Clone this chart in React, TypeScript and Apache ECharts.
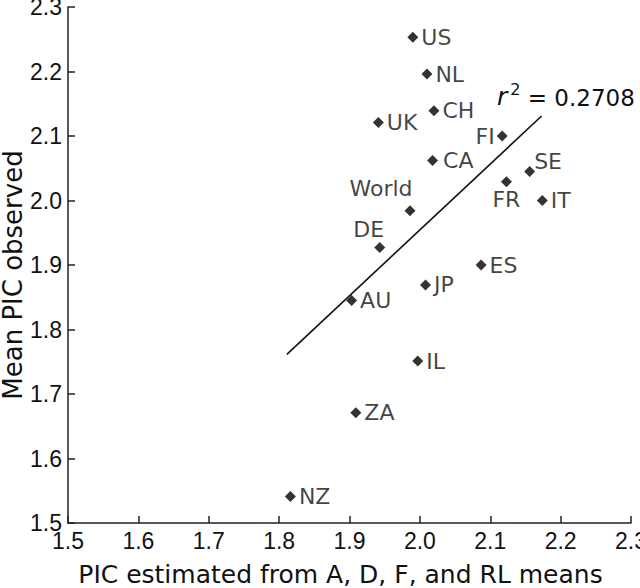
import React, { useEffect, useRef } from "react";
import * as echarts from "echarts";

const countries = ["US", "NL", "CH", "UK", "FI", "CA", "SE", "FR", "IT", "World", "DE", "ES", "JP", "AU", "IL", "ZA", "NZ"];
const estimated = [1.99, 2.01, 2.02, 1.941, 2.117, 2.018, 2.156, 2.123, 2.174, 1.986, 1.943, 2.087, 2.008, 1.903, 1.997, 1.909, 1.816];
const observed = [2.253, 2.196, 2.139, 2.121, 2.1, 2.062, 2.045, 2.029, 2.0, 1.984, 1.927, 1.9, 1.869, 1.845, 1.751, 1.671, 1.541];
const fitLineX = [1.811, 2.173];
const fitLineY = [1.7615, 2.131];
const r2Text = "0.2708";

// label placements per country
const labelPlacement: Record<string, { position: any; offset?: number[]; distance?: number }> = {
  FI: { position: "left", distance: 2 },
  SE: { position: "right", offset: [-3, -10], distance: 2 },
  FR: { position: "bottom", distance: 1 },
  World: { position: "top", offset: [-29, -4], distance: 2 },
  DE: { position: "top", offset: [-11, 0], distance: 2 },
  CA: { position: "right", distance: 5 },
};

const NUMFONT = "'Liberation Sans', Arial, Helvetica, sans-serif";
const TXTFONT = "'DejaVu Sans', 'Liberation Sans', sans-serif";

export default function App() {
  const ref = useRef<HTMLDivElement>(null);
  useEffect(() => {
    if (!ref.current) return;
    const chart = echarts.init(ref.current, undefined, { renderer: "svg" });
    const data = countries.map((c, i) => {
      const p = labelPlacement[c] || { position: "right", distance: 3 };
      return {
        name: c,
        value: [estimated[i], observed[i]],
        label: {
          show: true,
          formatter: c,
          position: p.position,
          distance: p.distance ?? 3,
          offset: p.offset || [0, 0],
        },
      };
    });
    const axisCommon = {
      type: "value",
      min: 1.5,
      max: 2.3,
      interval: 0.1,
      nameLocation: "middle",
      nameMoveOverlap: false,
      axisLine: { show: true, lineStyle: { color: "#222", width: 1.5 } },
      axisTick: { show: true, inside: true, length: 7, lineStyle: { color: "#222", width: 1.5 } },
      axisLabel: { color: "#111", fontSize: 23, margin: 6, fontFamily: NUMFONT, formatter: (v: number) => v.toFixed(1) },
      splitLine: { show: false },
    };
    chart.setOption({
      animation: false,
      textStyle: { fontFamily: TXTFONT },
      grid: { left: 68, right: 9, top: 7, bottom: 65, containLabel: false, outerBoundsMode: "none" },
      xAxis: {
        ...axisCommon,
        name: "PIC estimated from A, D, F, and RL means",
        nameGap: 39,
        nameTextStyle: { color: "#111", fontSize: 25, fontFamily: TXTFONT, padding: [0, 18, 0, 0] },
      },
      yAxis: {
        ...axisCommon,
        name: "Mean PIC observed",
        nameGap: 42,
        nameTextStyle: { color: "#111", fontSize: 26, fontFamily: TXTFONT, padding: [0, 20, 0, 0] },
      },
      series: [
        {
          type: "line",
          data: fitLineX.map((x, i) => [x, fitLineY[i]]),
          symbol: "none",
          lineStyle: { color: "#111", width: 1.6 },
          silent: true,
          z: 1,
        },
        {
          type: "scatter",
          symbol: "diamond",
          symbolSize: 11,
          itemStyle: { color: "#000" },
          label: { color: "#111", fontSize: 22, fontFamily: TXTFONT },
          data,
          z: 3,
        },
      ],
      graphic: [
        {
          type: "text",
          left: 497,
          top: 81,
          style: {
            text: "{i|r}{s|2}{n| = " + r2Text + "}",
            rich: {
              i: { fontSize: 25, fontStyle: "italic", fontFamily: TXTFONT, fill: "#111", verticalAlign: "bottom" },
              s: { fontSize: 16, fontFamily: TXTFONT, fill: "#111", padding: [0, 0, 12, 3], verticalAlign: "bottom" },
              n: { fontSize: 23, fontFamily: TXTFONT, fill: "#111", verticalAlign: "bottom" },
            },
          },
        },
      ],
    });
    return () => chart.dispose();
  }, []);
  return <div ref={ref} style={{ width: 640, height: 588, position: "absolute", left: 0, top: 0, background: "#fff" }} />;
}
